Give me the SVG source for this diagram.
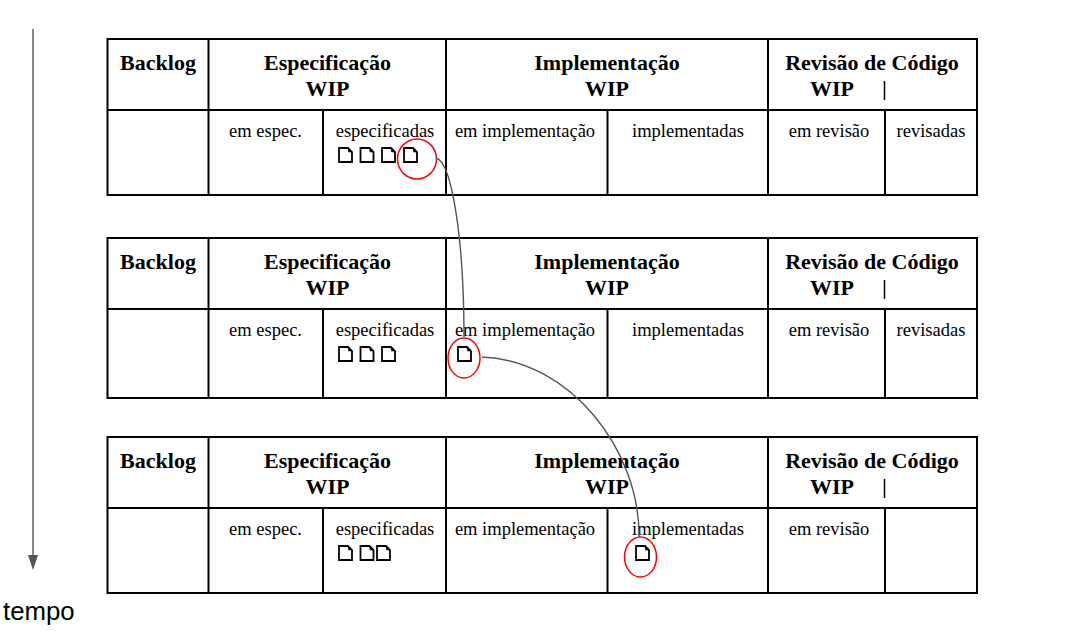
<svg xmlns="http://www.w3.org/2000/svg" width="1089" height="634" viewBox="0 0 1089 634">
<style>
.b{fill:none;stroke:#000;stroke-width:2}
.h{font:bold 22px "Liberation Serif",serif;text-anchor:middle;fill:#000}
.s{font:18.500px "Liberation Serif",serif;text-anchor:middle;fill:#000}
.c{fill:none;stroke:#555;stroke-width:1.400}
.r{fill:none;stroke:#f00;stroke-width:1.500}
</style>
<defs>
<marker id="a" markerUnits="userSpaceOnUse" markerWidth="16" markerHeight="12" refX="1" refY="5" orient="auto" viewBox="0 0 16 10"><path d="M0 0L15 5L0 10Z" fill="#555"/></marker>
<symbol id="d" overflow="visible"><path d="M.5 .5H9.500L13.500 4.500V14.500H.5Z" fill="#fff" stroke="#000" stroke-width="1.800"/><path d="M9.500 .5L13.500 4.500H10Z" fill="#000" stroke="#000" stroke-width=".5"/></symbol>
<g id="hdr">
<text class="h" x="158" y="70">Backlog</text>
<text class="h" x="327.500" y="70">Especificação</text>
<text class="h" x="327.500" y="96">WIP</text>
<text class="h" x="607" y="70">Implementação</text>
<text class="h" x="607" y="96">WIP</text>
<text class="h" x="872" y="70">Revisão de Código</text>
<text class="h" x="832" y="96">WIP</text>
<path d="M884.500 81V100" stroke="#000" stroke-width="1.500"/>
<text class="s" x="265.500" y="137">em espec.</text>
<text class="s" x="385" y="137">especificadas</text>
<text class="s" x="525" y="137">em implementação</text>
<text class="s" x="688" y="137">implementadas</text>
<text class="s" x="829" y="137">em revisão</text>
</g>
</defs>
<g id="tabela1">
<rect class="b" x="107.500" y="39" width="869.500" height="156"/>
<path class="b" d="M107 110H977M208.500 39V195M446 39V195M768 39V195M323 110V195M607.500 110V195M885 110V195"/>
<use href="#hdr"/>
<text class="s" x="931" y="137">revisadas</text>
<use href="#d" x="338.500" y="147.500"/><use href="#d" x="360" y="147.500"/><use href="#d" x="381.500" y="147.500"/><use href="#d" x="403.500" y="147.500"/>
<ellipse class="r" cx="417" cy="159" rx="19.500" ry="20"/>
</g>
<g id="tabela2">
<rect class="b" x="107.500" y="238" width="869.500" height="160"/>
<path class="b" d="M107 309H977M208.500 238V398M446 238V398M768 238V398M323 309V398M607.500 309V398M885 309V398"/>
<use href="#hdr" y="199"/>
<text class="s" x="931" y="336">revisadas</text>
<use href="#d" x="338.500" y="346.500"/><use href="#d" x="360" y="346.500"/><use href="#d" x="381.500" y="346.500"/>
<use href="#d" x="457.500" y="346.500"/>
<ellipse class="r" cx="464" cy="358" rx="16" ry="20"/>
</g>
<g id="tabela3">
<rect class="b" x="107.500" y="437" width="869.500" height="156"/>
<path class="b" d="M107 508H977M208.500 437V593M446 437V593M768 437V593M323 508V593M607.500 508V593M885 508V593"/>
<use href="#hdr" y="398"/>
<use href="#d" x="338.500" y="545.500"/><use href="#d" x="360" y="545.500"/><use href="#d" x="376.500" y="545.500"/>
<use href="#d" x="635.500" y="545.500"/>
<ellipse class="r" cx="640.500" cy="557" rx="16" ry="20"/>
</g>
<g id="conectores">
<path class="c" d="M436 158C452 162 464 240 464 337"/>
<path class="c" d="M482 357C570 360 640 450 639 537"/>
<path class="c" d="M33 29V556" marker-end="url(#a)"/>
</g>
<text id="tempo" x="3" y="620" style="font:25.800px 'Liberation Sans',sans-serif;fill:#000">tempo</text>
</svg>
